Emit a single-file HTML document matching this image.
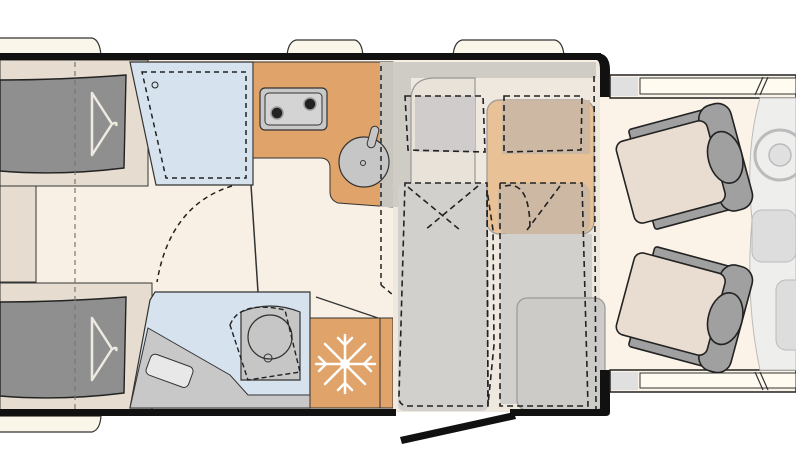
<!DOCTYPE html>
<html><head><meta charset="utf-8"><style>
html,body{margin:0;padding:0;background:#fff;width:796px;height:466px;overflow:hidden}
svg{display:block}
</style></head><body>
<svg width="796" height="466" viewBox="0 0 796 466" xmlns="http://www.w3.org/2000/svg">
<g fill="#fbf6ea" stroke="#333" stroke-width="1.2">
<path d="M-2 56 L-2 38 L92 38 Q100 40 101 56 Z"/>
<path d="M287 56 Q288 42 296 40 L355 40 Q362 42 363 56 Z"/>
<path d="M453 56 Q454 42 462 40 L555 40 Q563 42 564 56 Z"/>
<path d="M-2 416 L-2 432 L92 432 Q100 430 101 416 Z"/>
</g>
<rect x="0" y="60" width="600" height="352" fill="#f8f0e4"/>
<rect x="600" y="97" width="196" height="273" fill="#fbf3e7"/>
<rect x="0" y="60" width="148" height="126" fill="#e6ddd0" stroke="#333" stroke-width="1"/>
<path d="M0 80 Q60 80 126 75 L124 168 Q60 176 0 171 Z" fill="#8f8f8f" stroke="#222" stroke-width="1.4"/>
<rect x="0" y="186" width="36" height="96" fill="#e6ddd0" stroke="#333" stroke-width="1"/>
<rect x="0" y="283" width="152" height="128" fill="#e6ddd0" stroke="#333" stroke-width="1"/>
<path d="M0 302 Q60 302 126 297 L124 393 Q60 401 0 396 Z" fill="#8f8f8f" stroke="#222" stroke-width="1.4"/>
<line x1="75" y1="62" x2="75" y2="410" stroke="#777" stroke-width="1.2" stroke-dasharray="5,4"/>
<g fill="none" stroke="#eeeae2" stroke-width="2.5" stroke-linejoin="round">
<path d="M92 93 L112 124 L92 155 Z"/><path d="M112 124 Q118 121 116 126"/>
<path d="M92 318 L112 349 L92 380 Z"/><path d="M112 349 Q118 346 116 351"/>
</g>
<path d="M130 62 L253 62 L253 185 L156 185 Z" fill="#d6e3ee" stroke="#333" stroke-width="1.2"/>
<path d="M142 72 L246 72 L246 178 L166 178 Z" fill="none" stroke="#222" stroke-width="1.5" stroke-dasharray="5,4"/>
<circle cx="155" cy="85" r="3" fill="none" stroke="#222"/>
<path d="M232 186 Q170 205 157 282" fill="none" stroke="#222" stroke-width="1.5" stroke-dasharray="5,4"/>
<line x1="251" y1="185" x2="258" y2="292" stroke="#333" stroke-width="1.5"/>
<path d="M253 62 L393 62 L393 207 L338 203 Q330 200 330 192 L330 168 Q330 158 320 158 L253 158 Z" fill="#e0a36a" stroke="#333" stroke-width="1"/>
<rect x="380" y="62" width="13" height="145" fill="#c9c6c0"/>
<rect x="260" y="88" width="67" height="42" rx="5" fill="#c8c8c8" stroke="#333" stroke-width="1.2"/>
<rect x="265" y="93" width="57" height="32" rx="4" fill="#d4d4d4" stroke="#333" stroke-width="1"/>
<circle cx="277" cy="113" r="6" fill="#222" stroke="#999" stroke-width="1.5"/>
<circle cx="310" cy="104" r="6" fill="#222" stroke="#999" stroke-width="1.5"/>
<circle cx="364" cy="162" r="25" fill="#c6c6c6" stroke="#333" stroke-width="1.2"/>
<rect x="369" y="126" width="8" height="22" rx="4" fill="#c6c6c6" stroke="#333" transform="rotate(15 373 137)"/>
<circle cx="363" cy="163" r="2.5" fill="none" stroke="#333"/>
<line x1="381" y1="66" x2="381" y2="285" stroke="#222" stroke-width="1.5" stroke-dasharray="5,4"/>
<path d="M381 285 L393 295" stroke="#222" stroke-width="1.5" stroke-dasharray="5,4"/>
<path d="M155 292 L310 292 L310 408 L130 408 L150 300 Z" fill="#d6e3ee" stroke="#333" stroke-width="1.2"/>
<path d="M148 328 L230 375 L248 395 L310 395 L310 408 L130 408 Z" fill="#c8c8c8" stroke="#333" stroke-width="1"/>
<rect x="147" y="360" width="45" height="22" rx="5" fill="#e8e8e8" stroke="#333" transform="rotate(20 170 371)"/>
<path d="M241 312 Q270 300 300 312 L300 380 L241 380 Z" fill="#c6c6c6" stroke="#333" stroke-width="1.2"/>
<circle cx="270" cy="337" r="22" fill="#c6c6c6" stroke="#333" stroke-width="1.2"/>
<circle cx="268" cy="358" r="4" fill="none" stroke="#333"/>
<path d="M230 325 Q240 300 285 310 L300 372 L248 380 Z" fill="none" stroke="#222" stroke-width="1.4" stroke-dasharray="5,3"/>
<line x1="316" y1="297" x2="378" y2="318" stroke="#333" stroke-width="1.2"/>
<rect x="310" y="318" width="83" height="90" fill="#e0a36a" stroke="#333" stroke-width="1"/>
<line x1="380" y1="318" x2="380" y2="408" stroke="#333"/>
<g stroke="#fff" stroke-width="2.5" stroke-linecap="round" fill="none">
<line x1="345" y1="335" x2="345" y2="393"/><line x1="316" y1="364" x2="375" y2="364"/>
<line x1="325" y1="344" x2="365" y2="384"/><line x1="365" y1="344" x2="325" y2="384"/>
<path d="M338 338 L345 345 L352 338 M338 390 L345 383 L352 390 M319 357 L326 364 L319 371 M371 357 L364 364 L371 371"/>
</g>
<circle cx="345" cy="364" r="5" fill="#fff"/>
<rect x="393" y="62" width="207" height="350" fill="#efe8df"/>
<rect x="396" y="62" width="200" height="16" fill="#cfcbc5"/>
<rect x="393" y="62" width="18" height="145" fill="#cfcbc5"/>
<path d="M411 207 L411 100 Q411 78 435 78 L475 78 L475 207 Z" fill="#e9e2d9" stroke="#999" stroke-width="1.2"/>
<rect x="415" y="96" width="60" height="56" fill="#cfcccb"/>
<rect x="398" y="183" width="90" height="228" rx="6" fill="#d2d0cd"/>
<rect x="487" y="100" width="107" height="134" rx="12" fill="#e8c296" stroke="#999" stroke-width="1.2"/>
<rect x="502" y="100" width="88" height="54" fill="#cdb8a3"/>
<rect x="498" y="183" width="92" height="51" rx="10" fill="#cdb8a3"/>
<rect x="500" y="234" width="92" height="170" fill="#d2d0cd"/>
<rect x="517" y="298" width="88" height="112" rx="10" fill="#cdcbc7" stroke="#999" stroke-width="1.2"/>
<g fill="none" stroke="#222" stroke-width="1.6" stroke-dasharray="6,4">
<path d="M405 96 L483 96 L485 152 L408 150 Z"/>
<path d="M504 96 L582 96 L581 150 L504 152 Z"/>
<path d="M405 183 L487 183 L488 406 L407 406 Q398 405 399 395 Z"/>
<path d="M500 183 L582 183 L588 406 L500 406 Z"/>
<path d="M408 187 L460 230 M478 186 L425 230 M560 186 L527 230 M505 186 Q530 180 530 230"/>
<path d="M487 190 L488 405 L494 345 L493 230 Z"/>
<line x1="594" y1="76" x2="596" y2="410"/>
</g>
<g fill="#111">
<rect x="0" y="53" width="601" height="7"/>
<rect x="0" y="409" width="396" height="7"/>
<rect x="510" y="409" width="90" height="7"/>
<path d="M596 53 Q610 53 610 70 L610 97 L600 97 L600 70 Q600 60 596 60 Z"/>
<path d="M600 370 L610 370 L610 412 Q610 416 606 416 L596 416 L596 409 L600 409 Z"/>
<path d="M400 437 L514 412 L516 419 L402 444 Z"/>
</g>
<rect x="610" y="75" width="186" height="23" fill="#fbf3e7" stroke="#222" stroke-width="1.5"/>
<rect x="611" y="77" width="27" height="19" fill="#e0e0e0"/>
<rect x="640" y="78" width="156" height="16" fill="#fffbf0" stroke="#333" stroke-width="1"/>
<path d="M755 95 L763 77 M760 95 L768 77" stroke="#333" stroke-width="1.2"/>
<rect x="610" y="370" width="186" height="22" fill="#fbf3e7" stroke="#222" stroke-width="1.5"/>
<rect x="611" y="372" width="27" height="18" fill="#e0e0e0"/>
<rect x="640" y="373" width="156" height="15" fill="#fffbf0" stroke="#333" stroke-width="1"/>
<path d="M755 372 L763 390 M760 372 L768 390" stroke="#333" stroke-width="1.2"/>
<path d="M796 98 L760 98 Q745 150 752 220 Q745 300 760 370 L796 370 Z" fill="#eeeeec" stroke="#bbb"/>
<circle cx="780" cy="155" r="25" fill="none" stroke="#bbb" stroke-width="3"/>
<circle cx="780" cy="155" r="11" fill="#e0e0e0" stroke="#bbb" stroke-width="1.5"/>
<rect x="752" y="210" width="44" height="52" rx="10" fill="#ddd" stroke="#bbb"/>
<rect x="776" y="280" width="30" height="70" rx="10" fill="#ddd" stroke="#bbb"/>
<g transform="translate(678,170) rotate(-15) scale(0.94)" stroke="#222" stroke-width="1.7">
<rect x="-40" y="-55" width="95" height="15" rx="3" fill="#a0a0a0"/>
<rect x="-40" y="40" width="95" height="15" rx="3" fill="#a0a0a0"/>
<rect x="35" y="-58" width="35" height="116" rx="15" fill="#a0a0a0"/>
<rect x="-58" y="-45" width="100" height="90" rx="9" fill="#e8ddd0"/>
<ellipse cx="52" cy="0" rx="18" ry="28" fill="#a0a0a0"/>
</g>
<g transform="translate(678,306) rotate(15) scale(0.94)" stroke="#222" stroke-width="1.7">
<rect x="-40" y="-55" width="95" height="15" rx="3" fill="#a0a0a0"/>
<rect x="-40" y="40" width="95" height="15" rx="3" fill="#a0a0a0"/>
<rect x="35" y="-58" width="35" height="116" rx="15" fill="#a0a0a0"/>
<rect x="-58" y="-45" width="100" height="90" rx="9" fill="#e8ddd0"/>
<ellipse cx="52" cy="0" rx="18" ry="28" fill="#a0a0a0"/>
</g>
</svg>
</body></html>
